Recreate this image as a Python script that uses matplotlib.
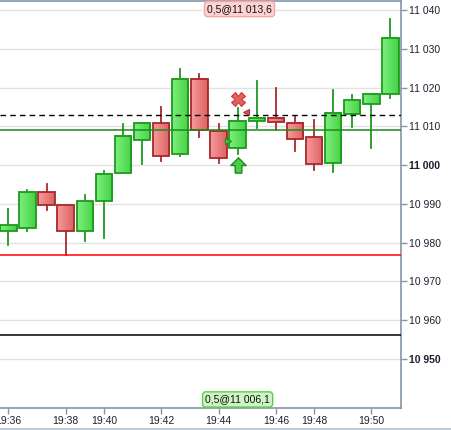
import numpy as np
import matplotlib
matplotlib.use('Agg')
import matplotlib.pyplot as plt
from matplotlib.patches import Rectangle
from matplotlib.colors import LinearSegmentedColormap
from matplotlib.path import Path
from matplotlib.lines import Line2D
import matplotlib.transforms as mtransforms

# candle data (one bar per index)
opens = [10983.1, 10983.9, 10993.1, 10989.8, 10983.1, 10990.8, 10998.0, 11006.5, 11010.9, 11002.9,
         11022.3, 11008.9, 11004.4, 11011.3, 11012.2, 11010.9, 11007.3, 11000.6, 11013.3, 11015.8, 11018.3]
highs = [10988.6, 10993.5, 10995.0, 10989.8, 10992.2, 10998.4, 11010.5, 11010.9, 11014.9, 11024.9,
         11023.4, 11010.5, 11014.6, 11021.8, 11019.8, 11012.6, 11011.7, 11019.3, 11018.0, 11018.4, 11037.6]
lows = [10979.4, 10983.0, 10988.4, 10976.9, 10980.4, 10981.2, 10998.0, 11000.3, 11001.1, 11002.3,
        11007.2, 11000.5, 11002.8, 11009.5, 11009.1, 11003.6, 10998.8, 10998.3, 11009.8, 11004.5, 11017.3]
closes = [10984.6, 10993.1, 10989.8, 10983.1, 10990.8, 10997.8, 11007.6, 11010.9, 11002.4, 11022.3,
          11009.1, 11001.9, 11011.4, 11012.2, 11011.1, 11006.7, 11000.4, 11013.5, 11016.9, 11018.4, 11032.9]

time_ticks = [0, 3, 5, 8, 11, 14, 16, 19]
time_labels = ['19:36', '19:38', '19:40', '19:42', '19:44', '19:46', '19:48', '19:50']
price_ticks = [10950, 10960, 10970, 10980, 10990, 11000, 11010, 11020, 11030, 11040]
bold_prices = [10950, 11000]

# horizontal levels
dashed_level = 11012.8
green_level = 11009.1
red_level = 10976.9
black_level = 10956.2

# trade
entry_idx, entry_price = 11.5, 11006.1
exit_idx, exit_price = 12.45, 11013.6
signal_idx = 12
cross_price = 11017.1
arrow_price = 11000.0
entry_label = '0,5@11 006,1'
exit_label = '0,5@11 013,6'

plt.rcParams['font.family'] = ['Liberation Sans', 'DejaVu Sans']

fig = plt.figure(figsize=(4.51, 4.30), dpi=100)
ax = fig.add_axes([0, 22 / 430, 401 / 451, 407.5 / 430])

green_cmap = LinearSegmentedColormap.from_list('g', ['#7cef7c', '#45d245'])
red_cmap = LinearSegmentedColormap.from_list('r', ['#f69a9a', '#dc6464'])
grad = np.linspace(0, 1, 32).reshape(1, -1)

w = 0.86
for i in range(len(opens)):
    up = closes[i] >= opens[i]
    edge = '#1c9a1c' if up else '#a8282c'
    ax.plot([i, i], [lows[i], highs[i]], color=edge, lw=1.3, zorder=3)
    lo, hi = min(opens[i], closes[i]), max(opens[i], closes[i])
    ax.imshow(grad, cmap=green_cmap if up else red_cmap, aspect='auto',
              extent=[i - w / 2, i + w / 2, lo, hi], zorder=4, interpolation='bilinear')
    ax.add_patch(Rectangle((i - w / 2, lo), w, hi - lo, fill=False, edgecolor=edge, lw=1.3, zorder=5))

for p in price_ticks:
    ax.axhline(p, color='#e2e2e2', lw=1, zorder=1)

ax.axhline(dashed_level, color='black', lw=1, ls=(0, (4, 3)), zorder=6)
ax.axhline(green_level, color='#1a8c1a', lw=1.1, zorder=6)
ax.axhline(red_level, color='#ff0000', lw=1.1, zorder=6)
ax.axhline(black_level, color='black', lw=1.1, zorder=6)

# markers
up_arrow = Path([(-0.22, -0.5), (0.22, -0.5), (0.22, 0.0), (0.5, 0.0), (0.0, 0.5),
                 (-0.5, 0.0), (-0.22, 0.0), (-0.22, -0.5)])
ax.plot(signal_idx, arrow_price, marker=up_arrow, ms=11, mfc='#4ccc4c', mec='#1a8c1a', mew=1, zorder=7)
ax.plot(signal_idx, cross_price, marker='X', ms=10, mfc='#e66060', mec='#c83a3a', mew=0.8, zorder=7)
ax.plot(entry_idx, entry_price, marker='>', ms=5, mfc='#44cc44', mec='#1a8c1a', mew=0.8, zorder=7)
ax.plot(exit_idx, exit_price, marker='<', ms=5, mfc='#e05050', mec='#b03030', mew=0.8, zorder=7)

trans = mtransforms.blended_transform_factory(ax.transData, ax.transAxes)
ax.text(12.1, 0.979, exit_label, transform=trans, ha='center', va='center', fontsize=7.5,
        color='#111111', zorder=8,
        bbox=dict(boxstyle='round,pad=0.25,rounding_size=0.3', fc='#ffd2d2', ec='#f2a8a8', lw=1))
ax.text(12.0, 0.021, entry_label, transform=trans, ha='center', va='center', fontsize=7.5,
        color='#111111', zorder=8,
        bbox=dict(boxstyle='round,pad=0.25,rounding_size=0.3', fc='#cdf6c4', ec='#5ccc50', lw=1))

ax.set_xlim(-0.434, 20.55)
ax.set_ylim(10937.36, 11042.45)

ax.yaxis.tick_right()
ax.set_yticks(price_ticks)
ax.set_yticklabels([f'{p:,}'.replace(',', ' ') for p in price_ticks])
for lbl, p in zip(ax.get_yticklabels(), price_ticks):
    if p in bold_prices:
        lbl.set_fontweight('bold')
        lbl.set_fontsize(8.5)
ax.set_xticks(time_ticks)
ax.set_xticklabels(time_labels)
ax.tick_params(axis='both', labelsize=7.5, colors='#8595a5', labelcolor='#1e1e30',
               length=4, width=1, pad=2)

spine_c = '#8595a5'
ax.spines['left'].set_visible(False)
for s in ['top', 'right', 'bottom']:
    ax.spines[s].set_color(spine_c)
    ax.spines[s].set_linewidth(1.2)

fig.add_artist(Line2D([0, 1], [1.5 / 430, 1.5 / 430], color='#b4c0cc', lw=1.2))

fig.savefig('out.png', dpi=100)
